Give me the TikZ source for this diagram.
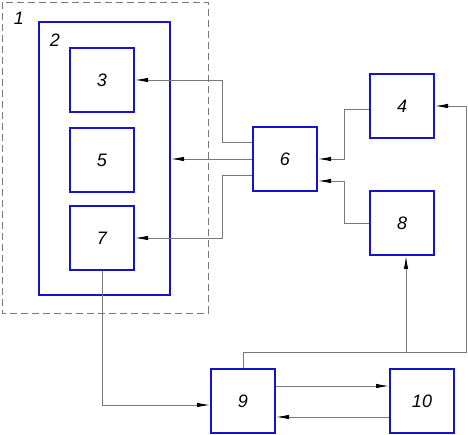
\documentclass[tikz,border=0pt]{standalone}
\usepackage{fontspec}
\setmainfont{Liberation Sans}
\usetikzlibrary{arrows.meta,positioning,calc}
\definecolor{blkblue}{RGB}{20,20,200}
\definecolor{lngray}{RGB}{120,120,120}
\tikzset{
  blk/.style  ={draw=blkblue,line width=2pt,minimum width=64pt,minimum height=64pt,
                inner sep=0pt,font=\fontsize{18}{20}\selectfont\itshape},
  grp/.style  ={draw=blkblue,line width=2pt,minimum width=131pt,minimum height=273pt,inner sep=0pt},
  frm/.style  ={draw=lngray,line width=.9pt,dash pattern=on 7pt off 4pt},
  lnk/.style  ={draw=lngray,line width=.9pt},
  arr/.style  ={lnk,-{Latex[length=13pt,width=4.5pt,black]}},
  tag/.style  ={font=\fontsize{18}{20}\selectfont\itshape,inner sep=0pt},
}
\begin{document}
\begin{tikzpicture}[x=1pt,y=-1pt]
  \useasboundingbox (0,0) rectangle (468,435);

  % ---------- block 1 / block 2 ----------
  \draw[frm] (2,2) rectangle (208,313);
  \node[tag] (t1) at (19,18) {1};
  \node[grp] (n2) at (104.5,158.5) {};
  \node[tag] (t2) at (55,40) {2};
  \node[blk] (n3) at (102,80) {3};
  \node[blk] (n5) at (102,160) {5};
  \node[blk] (n7) at (102,238) {7};

  % ---------- right part ----------
  \node[blk] (n6) at (285,159) {6};
  \node[blk] (n4) at (402,106) {4};
  \node[blk] (n8) at (402,223) {8};
  \node[blk] (n9) at (243,401) {9};
  \node[blk] (n10) at (422,401) {10};

  \coordinate (bus) at (466,352);
  \coordinate (tap) at (406,352);

  % ---------- connectors ----------
  \draw[arr] ([yshift=17pt]n6.west) -- ++(-30,0) |- (n3.east);
  \draw[arr] (n6.west) -- (n2.east |- n6.west);
  \draw[arr] ([yshift=-16pt]n6.west) -- ++(-30,0) |- (n7.east);
  \draw[arr] ([yshift=-3pt]n4.west) -- ++(-25,0) |- (n6.east);
  \draw[arr] (n8.west) -- ++(-25,0) |- ([yshift=-22pt]n6.east);
  \draw[arr] (n7.south) |- ([yshift=-4pt]n9.west);
  \draw[arr] ([yshift=15pt]n9.east) -- ([yshift=15pt]n10.west);
  \draw[arr] ([yshift=-16pt]n10.west) -- ([yshift=-16pt]n9.east);
  \draw[arr] (n9.north) |- (bus) |- (n4.east);
  \draw[arr] (tap) -- (tap |- n8.south);

\end{tikzpicture}
\end{document}
